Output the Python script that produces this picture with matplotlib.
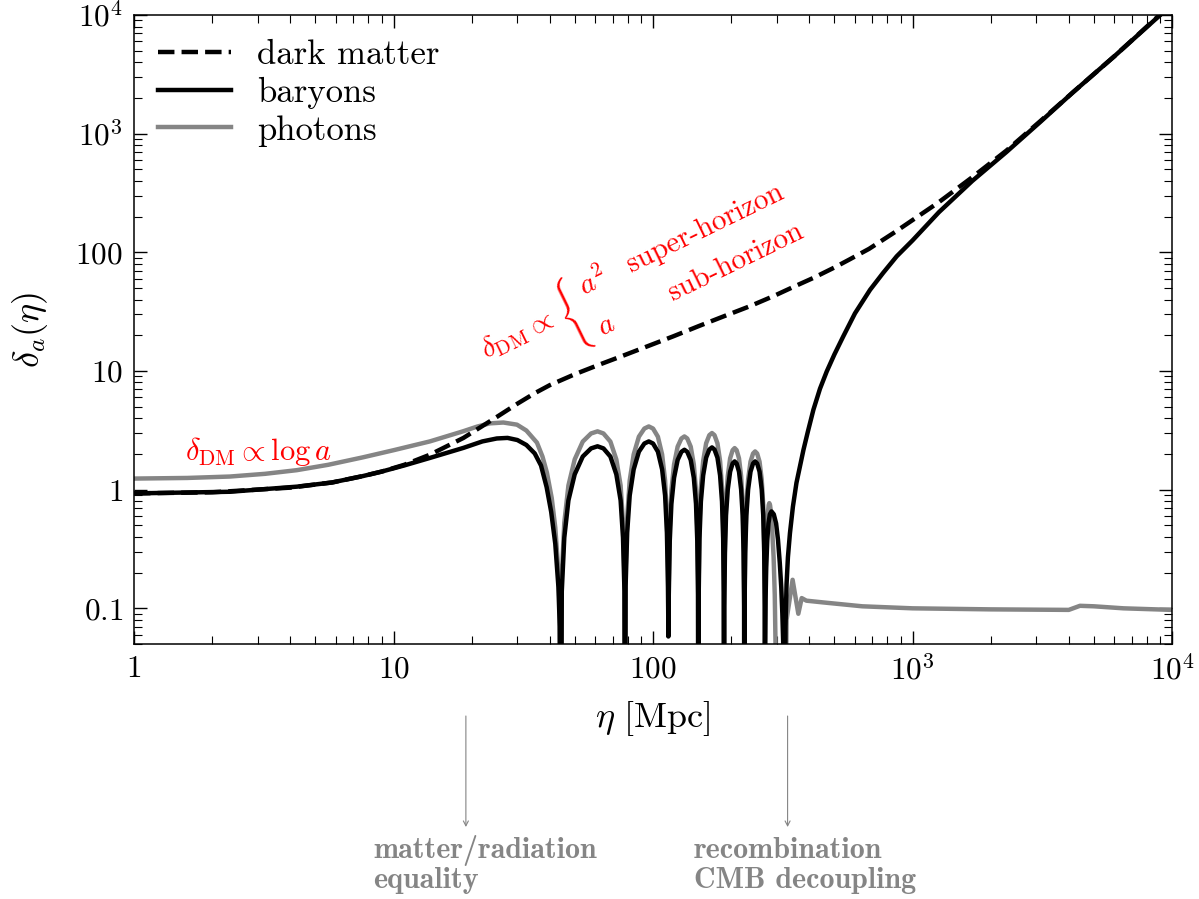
""" Density contrast of dark matter, baryons and photons vs conformal time
"""
import matplotlib
matplotlib.use('Agg')
import matplotlib.pyplot as plt

plt.rcParams['font.family'] = 'serif'
plt.rcParams['font.serif'] = ['cmr10']
plt.rcParams['mathtext.fontset'] = 'cm'
plt.rcParams['axes.unicode_minus'] = False
plt.rcParams['axes.formatter.use_mathtext'] = True

# dark matter (dashed)
eta_dm = [1, 2, 4, 5.8, 7.6, 9, 11, 13.8, 18.6, 25, 30, 35, 40, 50, 62, 76.9, 119.7,
          150, 186.6, 235, 290.8, 350, 415, 500, 574, 680, 855, 1264, 1700, 2300,
          3100, 4170, 6000, 9000, 10000]
delta_dm = [0.93, 0.95, 1.04, 1.15, 1.3, 1.42, 1.62, 1.97, 2.73, 4.1, 5.3, 6.5, 7.6, 9.4,
            11.3, 13.5, 19.6, 23.9, 28.8, 35.0, 42.7, 51.5, 60.9, 74.5, 87.5, 107, 148,
            265, 430, 720, 1270, 2250, 4500, 10100, 12400]

# baryons
eta_b = [1, 2.34, 4.24, 5.8, 7.6, 9, 11, 13.8, 18.6, 22, 25, 27.5, 30, 32.5, 35, 37, 38.9,
         40.5, 42, 43.2, 43.7, 44.1,
         44.5, 45.5, 47.2, 49.9, 53.6, 57.7, 61.1, 64.4, 68.5, 72.2, 75.0, 76.6, 77.6, 78.0,
         78.4, 79.5, 81.3, 84.2, 88.2, 92.6, 96.3, 100.0, 104.4, 108.4, 111.3, 113.1, 114.2, 114.6,
         115.0, 116.0, 117.7, 120.5, 124.4, 128.6, 132.1, 135.5, 139.7, 143.6, 146.4, 148.1, 149.1, 149.5,
         150.0, 151.0, 152.9, 156.0, 160.2, 164.8, 168.7, 172.5, 177.1, 181.3, 184.4, 186.3, 187.3, 187.8,
         188.2, 189.3, 191.1, 194.1, 198.2, 202.6, 206.3, 210.0, 214.4, 218.5, 221.5, 223.3, 224.4, 224.8,
         225.3, 226.6, 228.9, 232.5, 237.5, 242.9, 247.4, 251.9, 257.3, 262.3, 265.9, 268.2, 269.5, 270.0,
         270.5, 271.5, 273, 275.5, 278.5, 282, 286, 292, 298, 303, 308, 312, 315, 318, 321,
         324, 327, 331, 337, 346, 357, 370, 380, 395, 415, 440, 467, 500, 541, 600, 686, 770,
         869, 1000, 1264, 1700, 2300, 3100, 4170, 6000, 9000, 10000]
delta_b = [0.93, 0.96, 1.06, 1.15, 1.3, 1.42, 1.6, 1.85, 2.25, 2.55, 2.70, 2.73, 2.62, 2.38, 2.02, 1.6, 1.05,
           0.65, 0.35, 0.15, 0.07, 0.001,
           0.139, 0.394, 0.812, 1.346, 1.902, 2.227, 2.32, 2.227, 1.902, 1.346, 0.812, 0.394, 0.139, 0.001,
           0.153, 0.434, 0.893, 1.479, 2.091, 2.448, 2.55, 2.448, 2.091, 1.479, 0.893, 0.434, 0.153, 0.058,
           0.130, 0.369, 0.760, 1.259, 1.779, 2.083, 2.17, 2.083, 1.779, 1.259, 0.760, 0.369, 0.130, 0.001,
           0.136, 0.386, 0.795, 1.317, 1.861, 2.179, 2.27, 2.179, 1.861, 1.317, 0.795, 0.386, 0.136, 0.001,
           0.104, 0.294, 0.606, 1.003, 1.419, 1.661, 1.73, 1.661, 1.419, 1.003, 0.606, 0.294, 0.104, 0.001,
           0.104, 0.294, 0.606, 1.003, 1.419, 1.661, 1.73, 1.661, 1.419, 1.003, 0.606, 0.294, 0.104, 0.001,
           0.05, 0.12, 0.22, 0.37, 0.52, 0.62, 0.656, 0.62, 0.52, 0.38, 0.24, 0.15, 0.09, 0.045, 0.001,
           0.07, 0.16, 0.27, 0.43, 0.72, 1.14, 1.65, 2.17, 3.08, 4.72, 7.1, 9.9, 13.8, 19.6, 30.6, 48.3, 67,
           92.6, 126, 218, 400, 700, 1250, 2250, 4500, 10000, 12300]

# photons
eta_g = [1, 1.6, 2.34, 3.2, 4.24, 5.6, 7.6, 10, 13.8, 18.5, 21, 23.5, 26.5, 29.9, 32.5, 35.7, 37.5,
         39, 40.7, 42, 43.2, 43.7, 44.1,
         44.5, 45.5, 47.2, 49.9, 53.6, 57.7, 61.1, 64.4, 68.5, 72.2, 75.0, 76.6, 77.6, 78.0,
         78.4, 79.5, 81.3, 84.2, 88.2, 92.6, 96.3, 100.0, 104.4, 108.4, 111.3, 113.1, 114.2, 114.6,
         115.0, 116.0, 117.7, 120.5, 124.4, 128.6, 132.1, 135.5, 139.7, 143.6, 146.4, 148.1, 149.1, 149.5,
         150.0, 151.0, 152.9, 156.0, 160.2, 164.8, 168.7, 172.5, 177.1, 181.3, 184.4, 186.3, 187.3, 187.8,
         188.2, 189.3, 191.1, 194.1, 198.2, 202.6, 206.3, 210.0, 214.4, 218.5, 221.5, 223.3, 224.4, 224.8,
         225.3, 226.6, 228.9, 232.5, 237.5, 242.9, 247.4, 251.9, 257.3, 262.3, 265.9, 268.2, 269.5, 270.0,
         270.4, 271.2, 272.5, 274.5, 277, 279, 280.6, 282.5, 285, 288, 291.5, 294.5, 296.5, 298,
         322, 327, 345, 363, 374, 390, 455, 640, 1000, 2000, 4000, 4418, 5000, 6500, 10000]
delta_g = [1.24, 1.255, 1.29, 1.36, 1.46, 1.62, 1.87, 2.15, 2.55, 3.1, 3.4, 3.62, 3.68, 3.53, 3.15, 2.49, 1.9,
           1.39, 0.85, 0.48, 0.2, 0.09, 0.001,
           0.186, 0.527, 1.085, 1.798, 2.542, 2.976, 3.10, 2.976, 2.542, 1.798, 1.085, 0.527, 0.186, 0.001,
           0.205, 0.580, 1.194, 1.978, 2.796, 3.274, 3.41, 3.274, 2.796, 1.978, 1.194, 0.580, 0.205, 0.058,
           0.169, 0.478, 0.984, 1.630, 2.304, 2.698, 2.81, 2.698, 2.304, 1.630, 0.984, 0.478, 0.169, 0.001,
           0.18, 0.51, 1.05, 1.74, 2.46, 2.88, 3.0, 2.88, 2.46, 1.74, 1.05, 0.51, 0.18, 0.001,
           0.134, 0.381, 0.784, 1.299, 1.837, 2.150, 2.24, 2.150, 1.837, 1.299, 0.784, 0.381, 0.134, 0.001,
           0.126, 0.357, 0.735, 1.218, 1.722, 2.016, 2.1, 2.016, 1.722, 1.218, 0.735, 0.357, 0.126, 0.001,
           0.05, 0.13, 0.27, 0.45, 0.63, 0.74, 0.77, 0.74, 0.63, 0.45, 0.27, 0.13, 0.05, 0.001,
           0.001, 0.08, 0.174, 0.09, 0.122, 0.116, 0.112, 0.104, 0.1, 0.098, 0.097, 0.105, 0.104, 0.1, 0.097]

xticks = [1, 10, 100, 1000, 10000]
xticklabels = ['$1$', '$10$', '$100$', '$10^3$', '$10^4$']
yticks = [0.1, 1, 10, 100, 1000, 10000]
yticklabels = ['$0.1$', '$1$', '$10$', '$100$', '$10^3$', '$10^4$']

eta_eq = 19.0    # matter/radiation equality
eta_rec = 330.0  # recombination

gray = '#858585'

fig = plt.figure(figsize=(11.99, 8.99), dpi=100)
ax = fig.add_axes([0.1118, 0.2836, 0.8657, 0.6997])

ax.plot(eta_dm, delta_dm, color='k', ls='--', lw=3.2, label='dark matter', zorder=3)
ax.plot(eta_b, delta_b, color='k', lw=3.2, label='baryons', zorder=2.5)
ax.plot(eta_g, delta_g, color=gray, lw=3.2, label='photons', zorder=2)

ax.set_xscale('log')
ax.set_yscale('log')
ax.set_xlim(1, 1e4)
ax.set_ylim(0.05, 1e4)
ax.set_xticks(xticks)
ax.set_xticklabels(xticklabels)
ax.set_yticks(yticks)
ax.set_yticklabels(yticklabels)
ax.tick_params(which='both', direction='in', top=True, right=True)
ax.tick_params(which='major', length=9.4, width=1.0, labelsize=22.5, pad=8)
ax.tick_params(which='minor', length=5.8, width=0.8)
for s in ax.spines.values():
    s.set_linewidth(1.1)

ax.set_xlabel(r'$\eta\ [\mathrm{Mpc}]$', fontsize=26)
ax.xaxis.set_label_coords(0.5, -0.087)
ax.set_ylabel(r'$\delta_a(\eta)$', fontsize=26)
ax.yaxis.set_label_coords(-0.081, 0.5)

ax.legend(loc='upper left', frameon=False, fontsize=25, handlelength=2.1,
          handletextpad=0.75, labelspacing=0.17, borderaxespad=0.3)

# red annotations
ax.text(0.0491, 0.2925, r'$\delta_{\rm DM}\propto\log a$', transform=ax.transAxes,
        color='red', fontsize=22, va='baseline')

rot = 26
red = dict(transform=ax.transAxes, color='red', rotation=rot, rotation_mode='anchor')
ax.text(0.3388, 0.4542, r'$\delta_{\rm DM}\propto$', fontsize=21, ha='left', va='baseline', **red)
ax.text(0.4217, 0.5258, '\xbd', family='cmex10', fontsize=23, ha='center', va='center', **red)
ax.text(0.4336, 0.5528, r'$a^2$', fontsize=21, ha='left', va='baseline', **red)
ax.text(0.4513, 0.4892, r'$a$', fontsize=21, ha='left', va='baseline', **red)
ax.text(0.4788, 0.5903, 'super-horizon', fontsize=21, ha='left', va='baseline', **red)
ax.text(0.5190, 0.5458, 'sub-horizon', fontsize=21, ha='left', va='baseline', **red)

# epoch markers below the axis
for e in [eta_eq, eta_rec]:
    ax.annotate('', xy=(e, (899 - 827) / 899), xytext=(e, (899 - 716) / 899),
                xycoords=('data', 'figure fraction'), textcoords=('data', 'figure fraction'),
                arrowprops=dict(arrowstyle='->,head_length=0.35,head_width=0.18', color=gray,
                                lw=0.8, shrinkA=0, shrinkB=0), annotation_clip=False)

bottom = dict(family='cmb10', color=gray, fontsize=21.6, va='baseline')
fig.text(373 / 1199, (899 - 858) / 899, 'matter/radiation', **bottom)
fig.text(373 / 1199, (899 - 888) / 899, 'equality', **bottom)
fig.text(694 / 1199, (899 - 858) / 899, 'recombination', **bottom)
fig.text(694 / 1199, (899 - 888) / 899, 'CMB decoupling', **bottom)

fig.savefig('out.png', dpi=100)
plt.close(fig)
